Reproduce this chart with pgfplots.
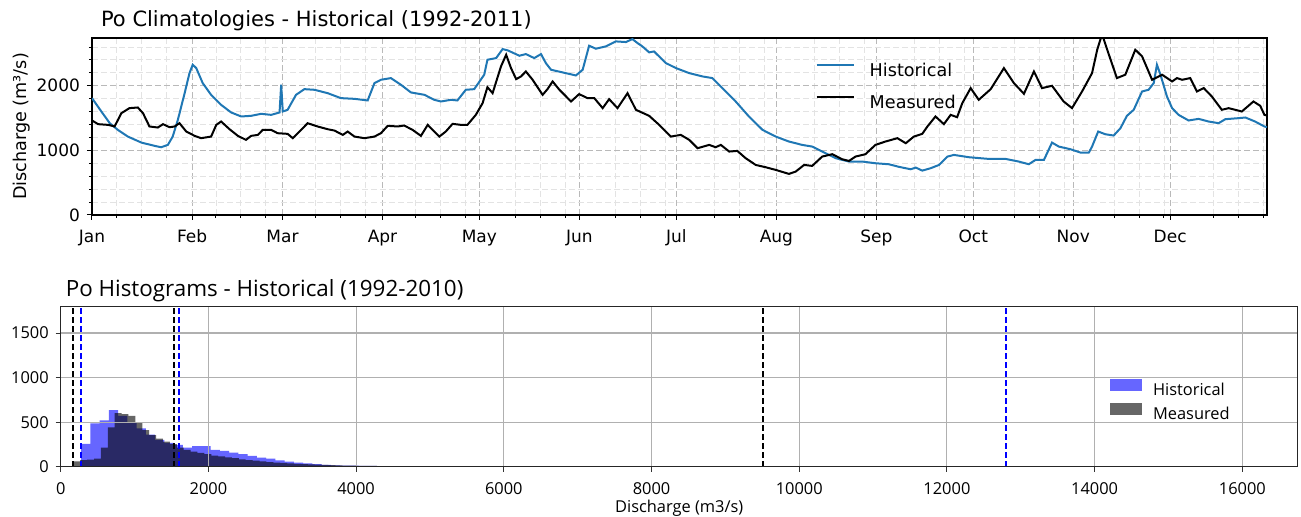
\documentclass[border=0pt]{standalone}
\usepackage{fontspec}
\setmainfont{DejaVu Sans}
\newfontfamily\osans{Open Sans}
\usepackage{pgfplots}
\pgfplotsset{compat=1.18}
\definecolor{cblue}{RGB}{31,119,180}
\definecolor{gridc}{RGB}{176,176,176}
\definecolor{hblue}{RGB}{0,0,255}

\begin{document}
\begin{tikzpicture}
\path[use as bounding box] (0,0) rectangle (650.5pt,258.5pt);
% ---------------- Top: climatologies ----------------
\begin{axis}[
  at={(46pt,151pt)}, anchor=south west,
  scale only axis, width=587.5pt, height=88.5pt,
  xmin=0, xmax=364, ymin=0, ymax=2740,
  xtick={0,31,59,90,120,151,181,212,243,273,304,334},
  xticklabels={Jan,Feb,Mar,Apr,May,Jun,Jul,Aug,Sep,Oct,Nov,Dec},
  minor xtick={7.5,15.23,22.96,38.41,46.14,53.87,69.32,77.05,84.78,100.24,107.96,115.69,131.15,138.88,146.6,162.06,169.79,177.52,192.97,200.7,208.43,223.88,231.61,239.34,254.8,262.52,270.25,285.71,293.44,301.16,316.62,324.35,332.08,347.53,355.26,362.99},
  ytick={0,1000,2000},
  minor ytick={200,400,600,800,1200,1400,1600,1800,2200,2400,2600},
  grid=both,
  major grid style={gray!55, line width=0.45pt, dash pattern=on 3pt off 1.5pt},
  minor grid style={gray!22, line width=0.45pt, dash pattern=on 3pt off 1.5pt},
  tick align=outside, major tick length=2.5pt, minor tick length=1.5pt,
  tick style={black, line width=0.5pt},
  xtick pos=left, ytick pos=left,
  axis line style={line width=0.6pt},
  tick label style={font=\fontsize{8.5}{10}\selectfont},
  xticklabel style={yshift=-1.5pt},
  /pgf/number format/assume math mode=true,
  /pgf/number format/1000 sep={},
  ylabel={Discharge (m³/s)},
  ylabel style={font=\fontsize{8.8}{10}\selectfont, at={(axis description cs:-0.06,0.5)}, anchor=center},
  every axis title shift=0pt,
  title={Po Climatologies - Historical (1992-2011)},
  title style={font=\fontsize{10.5}{12}\selectfont, at={(axis description cs:0,1)}, anchor=base west, yshift=5.5pt, xshift=1pt},
  legend style={at={(axis description cs:0.6156,0.86)}, anchor=north west, draw=none, fill=none,
    inner sep=0pt, font=\fontsize{8.8}{10}\selectfont, row sep=7.8pt, column sep=7.5pt,
    nodes={inner sep=0pt}},
  legend cell align=left,
  legend image code/.code={\draw[#1] (0pt,3.2pt) -- (18.5pt,3.2pt);},
]
\addplot[cblue, line width=1pt] coordinates {
(0,1809) (2.9,1602) (5.5,1421) (8,1318) (11.1,1214) (15.3,1121) (19.4,1070) (21.4,1049) (23.5,1085) (25,1214) (26.6,1473) (28.7,1886) (30.2,2196) (31.2,2326) (32.3,2274) (34.3,2041) (36.9,1860) (40,1705) (43.1,1587) (46.2,1525) (49.3,1535) (52.4,1566) (55.5,1550) (58.1,1587) (58.6,2016) (59.1,1602) (60.6,1628) (63.2,1860) (65.8,1948) (68.9,1938) (73,1886) (77.1,1809) (81.3,1798) (85.4,1773) (87.5,2041) (89.5,2093) (92.6,2119) (95.7,2016) (98.8,1897) (103,1860) (106,1783) (108.1,1757) (111.2,1783) (113.2,1773) (115.8,1938) (118.4,1948) (121.5,2171) (122.5,2403) (125.2,2429) (127.2,2568) (128.8,2548) (132.4,2465) (134.4,2491) (137,2429) (139.1,2491) (140.6,2351) (142.2,2248) (145.8,2207) (149.9,2160) (152,2248) (154,2620) (156.1,2574) (159.2,2610) (162.3,2687) (165.4,2677) (167.4,2723) (169,2661) (170.5,2610) (172.6,2517) (174.1,2532) (177.8,2351) (180.9,2274) (185,2196) (189.1,2145) (192.2,2119) (195.3,1964) (199.4,1757) (203.5,1525) (207.7,1318) (211.8,1214) (215.9,1137) (220,1085) (223.1,1059) (226.2,982) (230.4,879) (234.5,827) (238.6,827) (242.7,801) (246.9,785) (250,745) (253.6,708) (255.2,734) (257.2,687) (259.8,724) (262.4,775) (265,904) (267,930) (271.7,894) (277.8,868) (283,868) (287.1,827) (290.2,786) (292.3,853) (294.9,853) (297.4,1121) (299.5,1059) (303.1,1018) (306.2,966) (308.8,966) (309.8,1059) (311.7,1292) (313.9,1250) (316.5,1230) (318.6,1344) (320.6,1535) (322.7,1628) (325.3,1912) (327.3,1938) (328.9,2041) (329.9,2326) (331,2171) (333,1835) (334.6,1654) (336.6,1550) (339.7,1463) (342.8,1488) (345.9,1447) (349,1421) (351.1,1483) (355.2,1499) (357.3,1509) (360.3,1447) (363.2,1370) (364,1360)
};
\addlegendentry{Historical}
\addplot[black, line width=1pt] coordinates {
(0,1463) (1.9,1406) (5,1395) (7,1370) (9.1,1576) (11.6,1654) (14.2,1664) (15.8,1576) (17.8,1370) (20.4,1354) (22,1406) (24,1359) (25.6,1370) (27.1,1421) (29.2,1292) (31.8,1225) (33.8,1189) (36.9,1214) (38.5,1395) (40,1447) (42.6,1328) (45.2,1225) (47.7,1163) (49.3,1225) (51.4,1240) (52.9,1318) (55.5,1318) (57.5,1266) (60.6,1256) (62.2,1189) (64.8,1318) (66.8,1421) (69.9,1370) (73,1328) (75.1,1307) (77.7,1240) (79.2,1292) (81.3,1214) (84.4,1189) (87.5,1214) (89.5,1266) (91.6,1380) (94.7,1370) (96.7,1385) (99.3,1318) (101.9,1225) (104,1395) (105.5,1318) (107.6,1214) (109.6,1292) (111.7,1411) (114.3,1395) (116.3,1395) (118.9,1550) (121,1731) (122.5,1979) (124.1,1886) (126.7,2300) (128.3,2480) (129.8,2274) (131.4,2103) (132.9,2145) (134.4,2222) (136.5,2093) (139.6,1860) (141.1,1948) (142.7,2067) (144.8,1938) (148.4,1757) (150.9,1871) (153.5,1809) (155.6,1809) (158.2,1654) (160.2,1793) (162.8,1654) (165.9,1886) (168.5,1628) (172.6,1535) (175.7,1395) (179.3,1214) (182.4,1240) (185,1163) (187.6,1034) (191.2,1085) (193.2,1049) (194.8,1085) (197.4,982) (199.9,992) (202.5,879) (205.6,775) (208.7,739) (211.8,698) (215.9,636) (218,672) (220.6,775) (223.1,760) (226.2,904) (229.3,941) (232.4,863) (234.5,837) (236.5,904) (239.6,941) (242.7,1085) (245.8,1137) (249.5,1189) (252.1,1111) (254.6,1214) (257.2,1256) (258.8,1370) (261.3,1525) (263.9,1406) (266,1550) (268,1514) (269.6,1731) (272.2,1964) (274.7,1783) (278.4,1948) (282.5,2274) (285.6,2041) (288.7,1876) (291.8,2222) (294.3,1964) (297.4,2000) (301,1757) (303.6,1654) (306.7,1912) (309.8,2196) (311.4,2558) (312.9,2800) (314.5,2558) (317.5,2119) (320.1,2171) (323.2,2558) (325.3,2455) (328.4,2093) (331.5,2171) (334.6,2067) (336.1,2119) (337.7,2093) (340.2,2119) (342.3,1912) (344.4,1964) (346.9,1835) (350,1628) (352.1,1654) (356.2,1602) (359.8,1757) (361.9,1690) (363.2,1550) (364,1540)
};
\addlegendentry{Measured}
\end{axis}
% ---------------- Bottom: histograms ----------------
\begin{axis}[
  at={(30.35pt,25.15pt)}, anchor=south west,
  scale only axis, width=618.5pt, height=80.2pt,
  xmin=0, xmax=16750, ymin=0, ymax=1800,
  xtick={0,2000,4000,6000,8000,10000,12000,14000,16000},
  ytick={0,500,1000,1500},
  scaled ticks=false,
  grid=major, major grid style={gridc, line width=0.55pt},
  axis on top,
  tick align=outside, major tick length=2.5pt,
  tick style={black!80, line width=0.5pt},
  xtick pos=left, ytick pos=left,
  axis line style={black!85, line width=0.6pt},
  tick label style={font=\osans\fontsize{8.2}{10}\selectfont},
  xticklabel style={yshift=-2pt},
  /pgf/number format/assume math mode=true,
  /pgf/number format/1000 sep={},
  xlabel={Discharge (m3/s)},
  xlabel style={font=\osans\fontsize{8.2}{10}\selectfont, at={(axis description cs:0.5,0)}, anchor=center, yshift=-20.6pt},
  every axis title shift=0pt,
  title={Po Histograms - Historical (1992-2010)},
  title style={font=\osans\fontsize{11.2}{13}\selectfont, at={(axis description cs:0,1)}, anchor=base west, yshift=5pt, xshift=-1pt},
  legend style={at={(axis description cs:0.848,0.55)}, anchor=north west, draw=none, fill=none,
    inner sep=0pt, font=\osans\fontsize{8.2}{10}\selectfont, row sep=2pt, column sep=5.5pt,
    nodes={inner sep=0pt}},
  legend cell align=left,
  legend image code/.code={\fill[#1] (0pt,-0.1pt) rectangle (16pt,6pt);},
]
\addplot[const plot, fill=hblue, fill opacity=0.6, draw=none] coordinates {
(275,255) (400.25,485) (525.5,520) (650.75,635) (776,570) (901.25,500) (1026.5,430) (1151.75,360) (1277,300) (1402.25,268) (1527.5,245) (1652.75,215) (1778,232) (1903.25,230) (2028.5,190) (2153.75,178) (2279,158) (2404.25,140) (2529.5,122) (2654.75,102) (2780,90) (2905.25,72) (3030.5,56) (3155.75,45) (3281,37) (3406.25,28) (3531.5,20) (3656.75,16) (3782,13) (3907.25,11) (4032.5,9) (4157.75,8) (4283,7) (4408.25,6) (4533.5,5) (4658.75,5) (4784,4) (4909.25,4) (5034.5,3) (5159.75,3) (5285,3) (5410.25,2) (5535.5,3) (5660.75,2) (5786,2) (5911.25,2) (6036.5,1) (6161.75,1) (6287,1) (6412.25,1) (6537.5,0)
} \closedcycle;
\addlegendentry{Historical}
\addplot[const plot, fill=black, fill opacity=0.6, draw=none] coordinates {
(171,60) (264.4,75) (357.8,80) (451.1,90) (544.5,215) (637.9,440) (731.3,600) (824.7,590) (918,570) (1011.4,500) (1104.8,410) (1198.2,355) (1291.6,315) (1384.9,280) (1478.3,252) (1571.7,215) (1665.1,190) (1758.5,170) (1851.8,155) (1945.2,140) (2038.6,125) (2132,115) (2225.4,105) (2318.7,95) (2412.1,82) (2505.5,75) (2598.9,67) (2692.3,60) (2785.6,52) (2879,47) (2972.4,42) (3065.8,37) (3159.2,33) (3252.5,29) (3345.9,25) (3439.3,22) (3532.7,19) (3626.1,17) (3719.4,15) (3812.8,13) (3906.2,11) (3999.6,10) (4093,9) (4186.3,8) (4279.7,7) (4373.1,6) (4466.5,5) (4559.9,5) (4653.2,4) (4746.6,4) (4840,3) (4933.4,3) (5026.8,2) (5120.1,2) (5213.5,2) (5306.9,1) (5400.3,1) (5493.7,0)
} \closedcycle;
\addlegendentry{Measured}
\addplot[black, line width=1pt, dash pattern=on 3pt off 1.5pt, forget plot] coordinates {(171,0) (171,1800)};
\addplot[black, line width=1pt, dash pattern=on 3pt off 1.5pt, forget plot] coordinates {(1534,0) (1534,1800)};
\addplot[black, line width=1pt, dash pattern=on 3pt off 1.5pt, forget plot] coordinates {(9509,0) (9509,1800)};
\addplot[hblue, line width=1pt, dash pattern=on 3pt off 1.5pt, forget plot] coordinates {(275,0) (275,1800)};
\addplot[hblue, line width=1pt, dash pattern=on 3pt off 1.5pt, forget plot] coordinates {(1602,0) (1602,1800)};
\addplot[hblue, line width=1pt, dash pattern=on 3pt off 1.5pt, forget plot] coordinates {(12800,0) (12800,1800)};
\end{axis}
\end{tikzpicture}
\end{document}
